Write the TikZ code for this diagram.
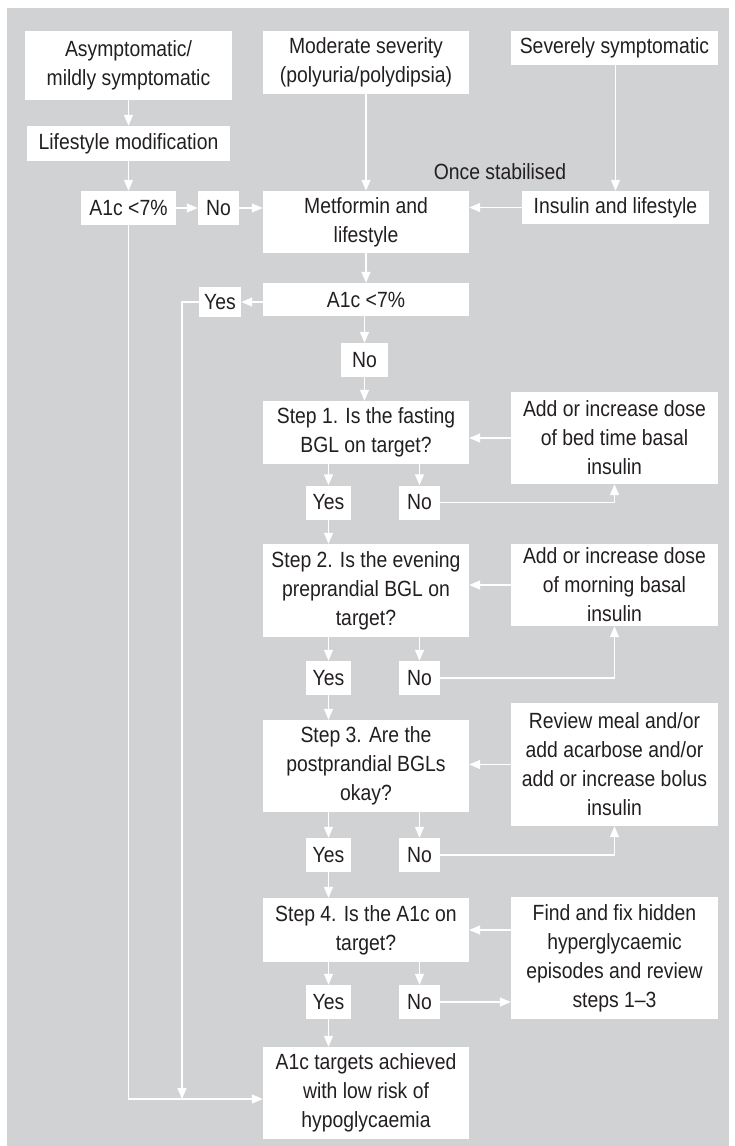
\documentclass[tikz,border=0pt]{standalone}
\usepackage{fontspec}
\setmainfont{Liberation Sans}[FakeStretch=0.88]
\usetikzlibrary{arrows.meta}
\definecolor{panel}{HTML}{D1D2D3}
\definecolor{ink}{HTML}{231F20}
\begin{document}
\begin{tikzpicture}[x=1pt,y=-1pt]
\def\midx{366}; %centre of the middle column
\def\rgtx{614.5}; %centre of the right column
\def\lftx{128.5}; %centre of the left column
\def\wideW{206}; %width of the wide boxes
\def\yesx{328.5}; %Yes column under the steps
\def\nox{419.5}; %No column under the steps
\def\joinY{1099}; %level of the bottom return line

\tikzstyle{box} = [rectangle, fill=white, text=ink, inner sep=0pt, align=center, font=\fontsize{22}{29}\selectfont]
\tikzstyle{arr} = [draw=white, line width=1.3pt, -{Triangle[length=11pt,width=9pt]}]

\useasboundingbox (0,0) rectangle (734,1146);
\fill[panel] (7,8) rectangle (729,1146);

% top row
\node[box, minimum width=207, minimum height=69] (asym) at (\lftx,65.5) {Asymptomatic/\\mildly symptomatic};
\node[box, minimum width=\wideW, minimum height=63] (mod) at (\midx,62.5) {Moderate severity\\(polyuria/polydipsia)};
\node[box, minimum width=207, minimum height=34] (sev) at (\rgtx,48) {Severely symptomatic};

\node[box, minimum width=203, minimum height=35] (life) at (\lftx,143.5) {Lifestyle modification};
\node[box, minimum width=95, minimum height=34] (a1cL) at (\lftx,208) {A1c <7\%};
\node[box, minimum width=41, minimum height=34] (noL) at (218.5,208) {No};
\node[box, minimum width=\wideW, minimum height=62] (met) at (\midx,222) {Metformin and\\lifestyle};
\node[box, minimum width=187, minimum height=33] (ins) at (615.5,207.5) {Insulin and lifestyle};
\node[text=ink, inner sep=0pt, font=\fontsize{22}{29}\selectfont] (once) at (500,172) {Once stabilised};

\node[box, minimum width=\wideW, minimum height=33] (a1cC) at (\midx,299.5) {A1c <7\%};
\node[box, minimum width=42, minimum height=30] (yesT) at (220,302) {Yes};
\node[box, minimum width=47, minimum height=34] (noC) at (364.5,360) {No};

% steps and their actions
\node[box, minimum width=\wideW, minimum height=63] (s1) at (\midx,432.5) {Step 1. Is the fasting\\BGL on target?};
\node[box, minimum width=207, minimum height=92] (add1) at (\rgtx,438) {Add or increase dose\\of bed time basal\\insulin};
\node[box, minimum width=\wideW, minimum height=93] (s2) at (\midx,590.5) {Step 2. Is the evening\\preprandial BGL on\\target?};
\node[box, minimum width=207, minimum height=82] (add2) at (\rgtx,585) {Add or increase dose\\of morning basal\\insulin};
\node[box, minimum width=\wideW, minimum height=92] (s3) at (\midx,766) {Step 3. Are the\\postprandial BGLs\\okay?};
\node[box, minimum width=207, minimum height=123] (rev) at (\rgtx,764.5) {Review meal and/or\\add acarbose and/or\\add or increase bolus\\insulin};
\node[box, minimum width=\wideW, minimum height=64] (s4) at (\midx,930) {Step 4. Is the A1c on\\target?};
\node[box, minimum width=207, minimum height=122] (fix) at (\rgtx,958) {Find and fix hidden\\hyperglycaemic\\episodes and review\\steps 1--3};
\node[box, minimum width=\wideW, minimum height=92] (fin) at (\midx,1093) {A1c targets achieved\\with low risk of\\hypoglycaemia};

\foreach \s/\yy in {1/502.5,2/678,3/855,4/1002}{
 \node[box, minimum width=45, minimum height=34] (yes\s) at (\yesx,\yy) {Yes};
 \node[box, minimum width=41, minimum height=34] (no\s) at (\nox,\yy) {No};
 \draw[arr] (yes\s |- s\s.south) -- (yes\s.north);
 \draw[arr] (no\s |- s\s.south) -- (no\s.north);
}

\coordinate (joinL) at (\lftx,\joinY);
\coordinate (joinY) at (182,\joinY);

% connectors
\draw[arr] (asym) -- (life);
\draw[arr] (life) -- (a1cL);
\draw[arr] (a1cL) -- (noL);
\draw[arr] (noL.east) -- (met.west |- noL.east);
\draw[arr] (mod) -- (met);
\draw[arr] (sev.south -| ins) -- (ins.north);
\draw[arr] (ins.west) -- (met.east |- ins.west);
\draw[arr] (met) -- (a1cC);
\draw[arr] (a1cC.west |- yesT) -- (yesT.east);
\draw[arr] (a1cC.south -| noC) -- (noC.north);
\draw[arr] (noC.south) -- (noC.south |- s1.north);

\draw[arr] (yes1.south) -- (yes1.south |- s2.north);
\draw[arr] (yes2.south) -- (yes2.south |- s3.north);
\draw[arr] (yes3.south) -- (yes3.south |- s4.north);
\draw[arr] (yes4.south) -- (yes4.south |- fin.north);

\draw[arr] (no1.east) -| (add1.south);
\draw[arr] (no2.east) -| (add2.south);
\draw[arr] (no3.east) -| (rev.south);
\draw[arr] (no4.east) -- (fix.west |- no4.east);

\draw[arr] (add1.west) -- (s1.east |- add1.west);
\draw[arr] (add2.west) -- (s2.east |- add2.west);
\draw[arr] (rev.west) -- (s3.east |- rev.west);
\draw[arr] (fix.west |- s4.east) -- (s4.east);

\draw[arr] (a1cL.south) -- (joinL) -- (fin.west |- joinL);
\draw[arr] (yesT.west) -| (joinY);

\end{tikzpicture}
\end{document}
